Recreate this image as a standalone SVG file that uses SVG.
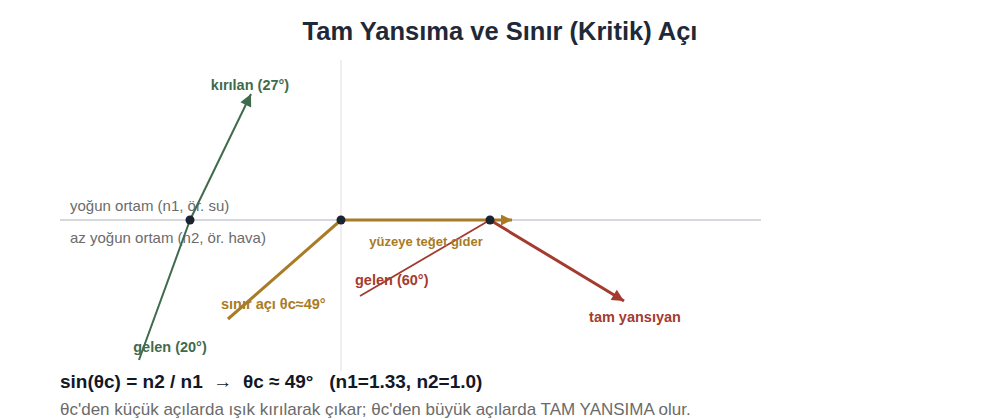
<svg xmlns="http://www.w3.org/2000/svg" width="1000" height="420" viewBox="0 0 1000 420">
<style>
text{font-family:"Liberation Sans",Arial,sans-serif}
.title{font-size:25.5px;font-weight:bold;fill:#1f2937}
.medium{font-size:15px;fill:#6b6b6b}
.lbl{font-size:14.5px;font-weight:bold}
.g{fill:#3f6b4c}.o{fill:#a87b24}.r{fill:#a33b2f}
.dot{fill:#1b2331}
.formula{font-size:19px;font-weight:bold;fill:#111827;white-space:pre}
.note{font-size:17px;fill:#6b6b6b}
</style>
<defs>
<marker id="ag" viewBox="0 0 10 10" refX="10" refY="5" markerUnits="userSpaceOnUse" markerWidth="14" markerHeight="12" orient="auto"><path d="M0,0 L10,5 L0,10 z" fill="#3f6b4c"/></marker>
<marker id="ao" viewBox="0 0 10 10" refX="10" refY="5" markerUnits="userSpaceOnUse" markerWidth="14" markerHeight="11" orient="auto"><path d="M0,0 L10,5 L0,10 z" fill="#a87b24"/></marker>
<marker id="ar" viewBox="0 0 10 10" refX="10" refY="5" markerUnits="userSpaceOnUse" markerWidth="14" markerHeight="12" orient="auto"><path d="M0,0 L10,5 L0,10 z" fill="#a33b2f"/></marker>
</defs>
<text class="title" x="500" y="40" text-anchor="middle">Tam Yansıma ve Sınır (Kritik) Açı</text>
<g id="media">
<line x1="341" y1="60" x2="341" y2="371" stroke="#dcdfe3" stroke-width="1"/>
<line x1="60" y1="220" x2="761" y2="220" stroke="#d5d8dc" stroke-width="2"/>
<text class="medium" x="70" y="211">yoğun ortam (n1, ör. su)</text>
<text class="medium" x="70" y="243">az yoğun ortam (n2, ör. hava)</text>
</g>
<g id="connectors">
<line x1="139" y1="360" x2="190" y2="220" stroke="#3f6b4c" stroke-width="2"/>
<line x1="190" y1="220" x2="251" y2="94" stroke="#3f6b4c" stroke-width="2" marker-end="url(#ag)"/>
<line x1="228" y1="319" x2="341" y2="220" stroke="#a87b24" stroke-width="3"/>
<line x1="341" y1="220" x2="512" y2="220" stroke="#a87b24" stroke-width="3" marker-end="url(#ao)"/>
<line x1="360" y1="296" x2="490" y2="220" stroke="#a33b2f" stroke-width="1.8"/>
<line x1="490" y1="220" x2="624" y2="301" stroke="#a33b2f" stroke-width="3" marker-end="url(#ar)"/>
</g>
<g id="dot-refraction"><circle class="dot" cx="190" cy="220" r="4.5"/></g>
<g id="dot-critical"><circle class="dot" cx="341" cy="220" r="4.5"/></g>
<g id="dot-reflection"><circle class="dot" cx="490" cy="220" r="4.5"/></g>
<g id="label-refracted"><text class="lbl g" x="250" y="90" text-anchor="middle">kırılan (27°)</text></g>
<g id="label-incident20"><text class="lbl g" x="170" y="352" text-anchor="middle">gelen (20°)</text></g>
<g id="label-critical"><text class="lbl o" x="221" y="309">sınır açı θc≈49°</text></g>
<g id="label-tangent"><text class="lbl o" x="426" y="246" text-anchor="middle" style="font-size:13px">yüzeye teğet gider</text></g>
<g id="label-incident60"><text class="lbl r" x="355" y="285">gelen (60°)</text></g>
<g id="label-reflected"><text class="lbl r" x="635" y="322" text-anchor="middle">tam yansıyan</text></g>
<text class="formula" x="60" y="388" xml:space="preserve">sin(θc) = n2 / n1  →  θc ≈ 49°   (n1=1.33, n2=1.0)</text>
<text class="note" x="60" y="415">θc'den küçük açılarda ışık kırılarak çıkar; θc'den büyük açılarda TAM YANSIMA olur.</text>
</svg>
